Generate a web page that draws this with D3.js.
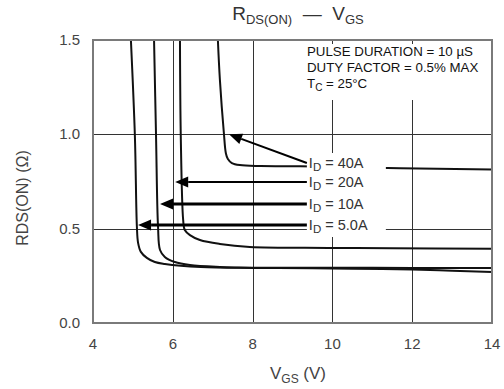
<!DOCTYPE html>
<html>
<head>
<meta charset="utf-8">
<script src="https://cdn.jsdelivr.net/npm/d3@7"></script>
<style>
  body { margin: 0; background: #fff; }
  text { font-family: "Liberation Sans", Arial, sans-serif; }
</style>
</head>
<body>
<svg id="chart" width="504" height="389"></svg>
<script>
// Axis ticks
const xTicks = [4, 6, 8, 10, 12, 14];
const yTicks = [0.0, 0.5, 1.0, 1.5];

// Curves: [VGS (V), RDS(on) (ohm)]
const curve5A = [[4.95, 1.5], [5.05, 0.99], [5.10, 0.51], [5.13, 0.425], [5.20, 0.377], [5.35, 0.345],
  [5.55, 0.323], [5.80, 0.313], [6.7, 0.297], [8.0, 0.292], [9.5, 0.29], [10.5, 0.288], [12.0, 0.283], [13.0, 0.277], [14.0, 0.27]];
const curve10A = [[5.53, 1.5], [5.58, 0.99], [5.63, 0.51], [5.68, 0.387], [5.80, 0.35], [6.05, 0.323],
  [6.43, 0.307], [7.18, 0.297], [8.0, 0.293], [10.0, 0.293], [12.0, 0.292], [14.0, 0.292]];
const curve20A = [[6.18, 1.5], [6.20, 0.99], [6.26, 0.546], [6.30, 0.493], [6.43, 0.466], [6.68, 0.44],
  [7.18, 0.419], [7.93, 0.403], [9.9, 0.398], [11.5, 0.396], [14.0, 0.393]];
const curve40A = [[7.13, 1.5], [7.18, 1.29], [7.28, 1.007], [7.33, 0.90], [7.38, 0.869], [7.48, 0.848],
  [7.68, 0.837], [8.2, 0.832], [9.2, 0.831], [11.7, 0.82], [14.0, 0.813]];

// Arrow annotations: label, arrow tail [V, R], arrow tip [V, R], stroke weight
const labels = ["40A", "20A", "10A", "5.0A"];
const arrowTails = [[9.36, 0.848], [9.36, 0.747], [9.36, 0.631], [9.36, 0.519]];
const arrowTips = [[7.41, 1.0], [6.06, 0.747], [5.68, 0.631], [5.13, 0.519]];
const arrowWidths = [2, 2, 3, 3];

const svg = d3.select("#chart");
const x = d3.scaleLinear().domain([4, 14]).range([93, 492]);
const y = d3.scaleLinear().domain([0, 1.5]).range([323, 40]);

// grid lines
const grid = svg.append("g").attr("stroke", "#333").attr("stroke-width", 1);
grid.selectAll("line.v").data([6, 8, 10, 12]).join("line")
  .attr("x1", d => Math.round(x(d)) + 0.5).attr("x2", d => Math.round(x(d)) + 0.5)
  .attr("y1", y(1.5)).attr("y2", y(0));
grid.selectAll("line.h").data([0.5, 1.0]).join("line")
  .attr("x1", x(4)).attr("x2", x(14))
  .attr("y1", d => Math.round(y(d)) + 0.5).attr("y2", d => Math.round(y(d)) + 0.5);

// curves
const line = d3.line().x(d => x(d[0])).y(d => y(d[1])).curve(d3.curveCatmullRom.alpha(0.5));
svg.append("g").attr("fill", "none").attr("stroke", "#111").attr("stroke-width", 2)
  .selectAll("path").data([curve5A, curve10A, curve20A, curve40A]).join("path")
  .attr("d", d => line(d));

// white boxes behind the notes
svg.append("rect").attr("x", 300).attr("y", 44).attr("width", 190).attr("height", 56).attr("fill", "#fff");
svg.append("rect").attr("x", x(9.36)).attr("y", 153).attr("width", 79).attr("height", 84).attr("fill", "#fff");

// frame
svg.append("rect").attr("x", x(4)).attr("y", y(1.5))
  .attr("width", x(14) - x(4)).attr("height", y(0) - y(1.5))
  .attr("fill", "none").attr("stroke", "#7a7a7a").attr("stroke-width", 2);

// arrows
const arrows = svg.append("g");
labels.forEach((lab, i) => {
  const [tx, ty] = [x(arrowTips[i][0]), y(arrowTips[i][1])];
  const [sx, sy] = [x(arrowTails[i][0]), y(arrowTails[i][1])];
  const ang = Math.atan2(sy - ty, sx - tx);
  const len = 13, half = 5.5;
  const bx = tx + len * Math.cos(ang), by = ty + len * Math.sin(ang);
  arrows.append("line")
    .attr("x1", sx).attr("y1", sy).attr("x2", bx).attr("y2", by)
    .attr("stroke", "#000").attr("stroke-width", arrowWidths[i]);
  const px = -Math.sin(ang) * half, py = Math.cos(ang) * half;
  arrows.append("polygon")
    .attr("points", [[tx, ty], [bx + px, by + py], [bx - px, by - py]].map(p => p.join(",")).join(" "))
    .attr("fill", "#000");
  const t = svg.append("text").attr("x", sx + 2).attr("y", sy + 5)
    .attr("font-size", 14.5).attr("fill", "#333");
  t.append("tspan").text("I");
  t.append("tspan").attr("font-size", 11.5).attr("dy", 3).text("D");
  t.append("tspan").attr("dy", -3).text("\u00a0= " + lab);
});

// tick labels
svg.append("g").selectAll("text").data(xTicks).join("text")
  .attr("x", d => x(d)).attr("y", 349).attr("text-anchor", "middle")
  .attr("font-size", 15).attr("fill", "#444").text(d => d);
svg.append("g").selectAll("text").data(yTicks).join("text")
  .attr("x", 80).attr("y", d => y(d) + 5).attr("text-anchor", "end")
  .attr("font-size", 15).attr("fill", "#444").text(d => d.toFixed(1));

// axis titles
const xt = svg.append("text").attr("x", 298).attr("y", 379).attr("text-anchor", "middle")
  .attr("font-size", 17).attr("fill", "#444");
xt.append("tspan").text("V");
xt.append("tspan").attr("font-size", 12).attr("dy", 4).text("GS");
xt.append("tspan").attr("dy", -4).text(" (V)");

svg.append("text").attr("transform", "translate(28,198) rotate(-90)")
  .attr("text-anchor", "middle").attr("font-size", 16).attr("fill", "#444")
  .text("RDS(ON) (Ω)");

// title
const title = svg.append("text").attr("x", 298).attr("y", 20).attr("text-anchor", "middle")
  .attr("font-size", 19).attr("fill", "#333");
title.append("tspan").text("R");
title.append("tspan").attr("font-size", 13).attr("dy", 4).text("DS(ON)");
title.append("tspan").attr("dy", -4).text("\u00a0\u00a0—\u00a0\u00a0V");
title.append("tspan").attr("font-size", 13).attr("dy", 4).text("GS");

// test conditions note
const note = svg.append("g").attr("font-size", 13.3).attr("fill", "#111");
note.append("text").attr("x", 307).attr("y", 56).text("PULSE DURATION = 10 µS");
note.append("text").attr("x", 307).attr("y", 72).text("DUTY FACTOR = 0.5% MAX");
const tc = note.append("text").attr("x", 307).attr("y", 88);
tc.append("tspan").text("T");
tc.append("tspan").attr("font-size", 10).attr("dy", 3).text("C");
tc.append("tspan").attr("dy", -3).text(" = 25°C");
</script>
</body>
</html>
